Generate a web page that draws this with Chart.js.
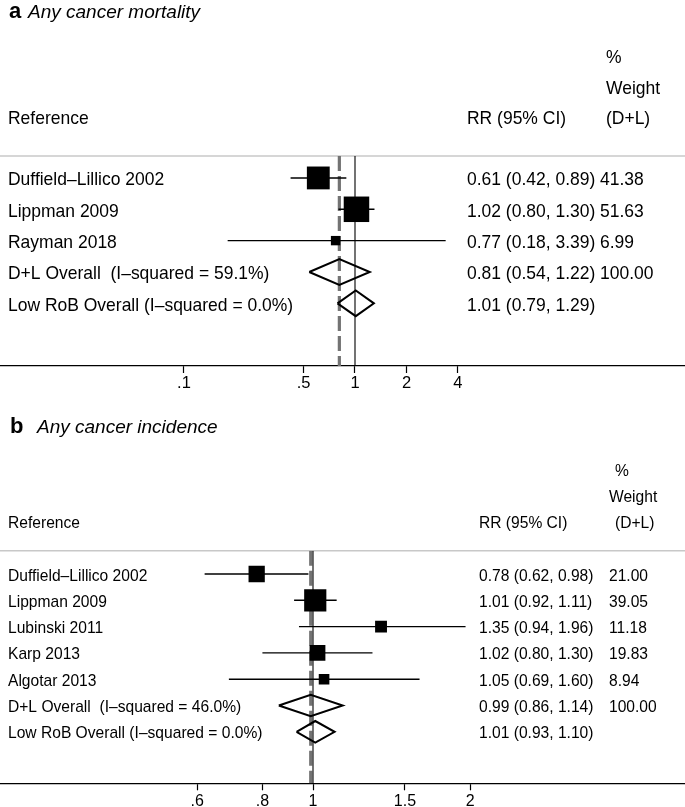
<!DOCTYPE html>
<html><head><meta charset="utf-8">
<script src="https://cdn.jsdelivr.net/npm/chart.js@4"></script>
<style>
html,body{margin:0;padding:0;background:#fff;width:685px;height:807px;overflow:hidden}
canvas{position:absolute;left:0}
#ca{top:0}
#cb{top:400px}
</style></head><body>
<canvas id="ca" width="685" height="400"></canvas>
<canvas id="cb" width="685" height="407"></canvas>
<script>
// ---------- Panel a: Any cancer mortality ----------
const titleLetterA = 'a';
const titleTextA = 'Any cancer mortality';
const studiesA = ['Duffield–Lillico 2002', 'Lippman 2009', 'Rayman 2018'];
const rrA = [0.61, 1.02, 0.77];
const loA = [0.42, 0.80, 0.18];
const hiA = [0.89, 1.30, 3.39];
const weightA = [41.38, 51.63, 6.99];
const pooledNamesA = ['D+L Overall  (I–squared = 59.1%)', 'Low RoB Overall (I–squared = 0.0%)'];
const pooledRrA = [0.81, 1.01];
const pooledLoA = [0.54, 0.79];
const pooledHiA = [1.22, 1.29];
const pooledWeightA = [100.00, null];
const ticksA = [0.1, 0.5, 1, 2, 4];
const tickLabelsA = ['.1', '.5', '1', '2', '4'];

// ---------- Panel b: Any cancer incidence ----------
const titleLetterB = 'b';
const titleTextB = 'Any cancer incidence';
const studiesB = ['Duffield–Lillico 2002', 'Lippman 2009', 'Lubinski 2011', 'Karp 2013', 'Algotar 2013'];
const rrB = [0.78, 1.01, 1.35, 1.02, 1.05];
const loB = [0.62, 0.92, 0.94, 0.80, 0.69];
const hiB = [0.98, 1.11, 1.96, 1.30, 1.60];
const weightB = [21.00, 39.05, 11.18, 19.83, 8.94];
const pooledNamesB = ['D+L Overall  (I–squared = 46.0%)', 'Low RoB Overall (I–squared = 0.0%)'];
const pooledRrB = [0.99, 1.01];
const pooledLoB = [0.86, 0.93];
const pooledHiB = [1.14, 1.10];
const pooledWeightB = [100.00, null];
const ticksB = [0.6, 0.8, 1, 1.5, 2];
const tickLabelsB = ['.6', '.8', '1', '1.5', '2'];

const headerLines = ['%', 'Weight'];
const FAMILY = '"Liberation Sans", Arial, Helvetica, sans-serif';

function drawText(ctx, str, x, y, font, sx) {
  ctx.save();
  ctx.font = font;
  ctx.textAlign = 'left';
  ctx.textBaseline = 'alphabetic';
  ctx.fillStyle = '#000';
  ctx.translate(x, y);
  ctx.scale(sx, 1);
  ctx.fillText(str, 0, 0);
  ctx.restore();
}

function makePanel(canvasId, d, L) {
  const W = 685;
  const nS = d.studies.length;
  const xMin = Math.pow(10, -L.onePx / L.decadePx);
  const xMax = Math.pow(10, (W - L.onePx) / L.decadePx);
  const line = (pts, extra) => Object.assign({
    type: 'scatter', data: pts, showLine: true, pointRadius: 0, fill: false,
    borderColor: '#000', borderWidth: 1.4, tension: 0
  }, extra);

  const datasets = [];
  // dashed line at D+L pooled estimate
  datasets.push(line([{x: d.pooledRr[0], y: L.yMin}, {x: d.pooledRr[0], y: L.yMax}],
    {borderColor: '#737373', borderWidth: 3.2, borderDash: [15, 5], order: 10}));
  // line of no effect
  datasets.push(line([{x: 1, y: L.yMin}, {x: 1, y: L.yMax}], {borderWidth: 1.1, order: 9}));
  // confidence intervals
  d.studies.forEach((s, i) => {
    datasets.push(line([{x: d.lo[i], y: i}, {x: d.hi[i], y: i}], {order: 5}));
  });
  // weighted squares
  datasets.push({
    type: 'scatter', order: 2,
    data: d.rr.map((v, i) => ({x: v, y: i})),
    pointStyle: 'rect', backgroundColor: '#000', borderWidth: 0,
    pointRadius: (c) => L.sqK * Math.sqrt(d.weight[c.dataIndex]) / Math.SQRT2,
    pointHoverRadius: (c) => L.sqK * Math.sqrt(d.weight[c.dataIndex]) / Math.SQRT2
  });
  // diamonds
  d.pooledRr.forEach((v, k) => {
    const r = nS + k, h = L.diamondHalf;
    datasets.push(line([
      {x: d.pooledLo[k], y: r}, {x: v, y: r - h}, {x: d.pooledHi[k], y: r},
      {x: v, y: r + h}, {x: d.pooledLo[k], y: r}
    ], {borderWidth: 2, order: 1, borderJoinStyle: 'miter'}));
  });

  const textPlugin = {
    id: 'forestText',
    beforeDatasetsDraw(chart) {
      const ctx = chart.ctx, a = chart.chartArea;
      ctx.save();
      ctx.strokeStyle = '#c8c8c8';
      ctx.lineWidth = 1.5;
      ctx.beginPath();
      ctx.moveTo(0, a.top);
      ctx.lineTo(W, a.top);
      ctx.stroke();
      ctx.restore();
    },
    afterDraw(chart) {
      const ctx = chart.ctx, ys = chart.scales.y;
      const f = L.fontPx + 'px ' + FAMILY;
      // title
      drawText(ctx, d.titleLetter, L.titleLetterX, L.titleBase, 'bold ' + L.titleLetterPx + 'px ' + FAMILY, 1);
      drawText(ctx, d.titleText, L.titleTextX, L.titleBase, 'italic ' + L.titlePx + 'px ' + FAMILY, 1);
      // header
      drawText(ctx, headerLines[0], L.pctX, L.hBase[0], f, L.sx);
      drawText(ctx, headerLines[1], L.wtHX, L.hBase[1], f, L.sx);
      drawText(ctx, 'Reference', L.nameX, L.hBase[2], f, L.sx);
      drawText(ctx, 'RR (95% CI)', L.rrX, L.hBase[2], f, L.sx);
      drawText(ctx, '(D+L)', L.pctX, L.hBase[2], f, L.sx);
      // rows
      const fmt = (e, l, h) => e.toFixed(2) + ' (' + l.toFixed(2) + ', ' + h.toFixed(2) + ')';
      d.studies.forEach((s, i) => {
        const yb = ys.getPixelForValue(i) + L.baseOff;
        drawText(ctx, s, L.nameX, yb, f, L.sx);
        drawText(ctx, fmt(d.rr[i], d.lo[i], d.hi[i]), L.rrX, yb, f, L.sx);
        drawText(ctx, d.weight[i].toFixed(2), L.wtX, yb, f, L.sx);
      });
      d.pooledNames.forEach((s, k) => {
        const yb = ys.getPixelForValue(nS + k) + L.baseOff;
        drawText(ctx, s, L.nameX, yb, f, L.sx);
        drawText(ctx, fmt(d.pooledRr[k], d.pooledLo[k], d.pooledHi[k]), L.rrX, yb, f, L.sx);
        if (d.pooledWeight[k] !== null) drawText(ctx, d.pooledWeight[k].toFixed(2), L.wtX, yb, f, L.sx);
      });
    }
  };

  return new Chart(document.getElementById(canvasId), {
    type: 'scatter',
    data: {datasets},
    options: {
      responsive: false, animation: false, events: [],
      layout: {autoPadding: false, padding: {top: L.plotTop, left: 0, right: 0, bottom: 0}},
      plugins: {legend: {display: false}, tooltip: {enabled: false}},
      scales: {
        x: {
          type: 'logarithmic', position: 'bottom', min: xMin, max: xMax, bounds: 'data',
          afterBuildTicks: (s) => { s.ticks = d.ticks.map(v => ({value: v})); },
          afterFit: (s) => { s.height = L.axisH; },
          ticks: {
            autoSkip: false, maxRotation: 0, minRotation: 0, color: '#000',
            padding: L.tickPad, font: {family: FAMILY, size: L.tickPx},
            callback: (v, i) => d.tickLabels[i]
          },
          grid: {drawOnChartArea: false, drawTicks: true, tickLength: 7, color: '#000', tickWidth: 1.2},
          border: {display: true, color: '#000', width: 1.2}
        },
        y: {type: 'linear', display: false, reverse: true, min: L.yMin, max: L.yMax}
      }
    },
    plugins: [textPlugin]
  });
}

makePanel('ca', {
  titleLetter: titleLetterA, titleText: titleTextA,
  studies: studiesA, rr: rrA, lo: loA, hi: hiA, weight: weightA,
  pooledNames: pooledNamesA, pooledRr: pooledRrA, pooledLo: pooledLoA, pooledHi: pooledHiA,
  pooledWeight: pooledWeightA, ticks: ticksA, tickLabels: tickLabelsA
}, {
  onePx: 355, decadePx: 171, yMin: -0.7, yMax: 6.0, plotTop: 156, axisH: 34,
  sqK: 3.55, diamondHalf: 0.41, fontPx: 18.6, sx: 0.94, tickPx: 16.5, tickPad: 1,
  titleBase: 17.5, titleLetterX: 9, titleTextX: 28, titleLetterPx: 22, titlePx: 19,
  hBase: [63, 93.5, 124], nameX: 8, rrX: 467, wtX: 600, pctX: 606, wtHX: 606, baseOff: 7.3
});

makePanel('cb', {
  titleLetter: titleLetterB, titleText: titleTextB,
  studies: studiesB, rr: rrB, lo: loB, hi: hiB, weight: weightB,
  pooledNames: pooledNamesB, pooledRr: pooledRrB, pooledLo: pooledLoB, pooledHi: pooledHiB,
  pooledWeight: pooledWeightB, ticks: ticksB, tickLabels: tickLabelsB
}, {
  onePx: 313, decadePx: 522, yMin: -0.886, yMax: 7.958, plotTop: 150.7, axisH: 23.7,
  sqK: 3.55, diamondHalf: 0.41, fontPx: 16.6, sx: 0.94, tickPx: 16, tickPad: 2,
  titleBase: 33, titleLetterX: 10, titleTextX: 37, titleLetterPx: 22, titlePx: 19,
  hBase: [76, 101.7, 127.7], nameX: 8, rrX: 479, wtX: 609, pctX: 615, wtHX: 609, baseOff: 6.5
});
</script>
</body></html>
